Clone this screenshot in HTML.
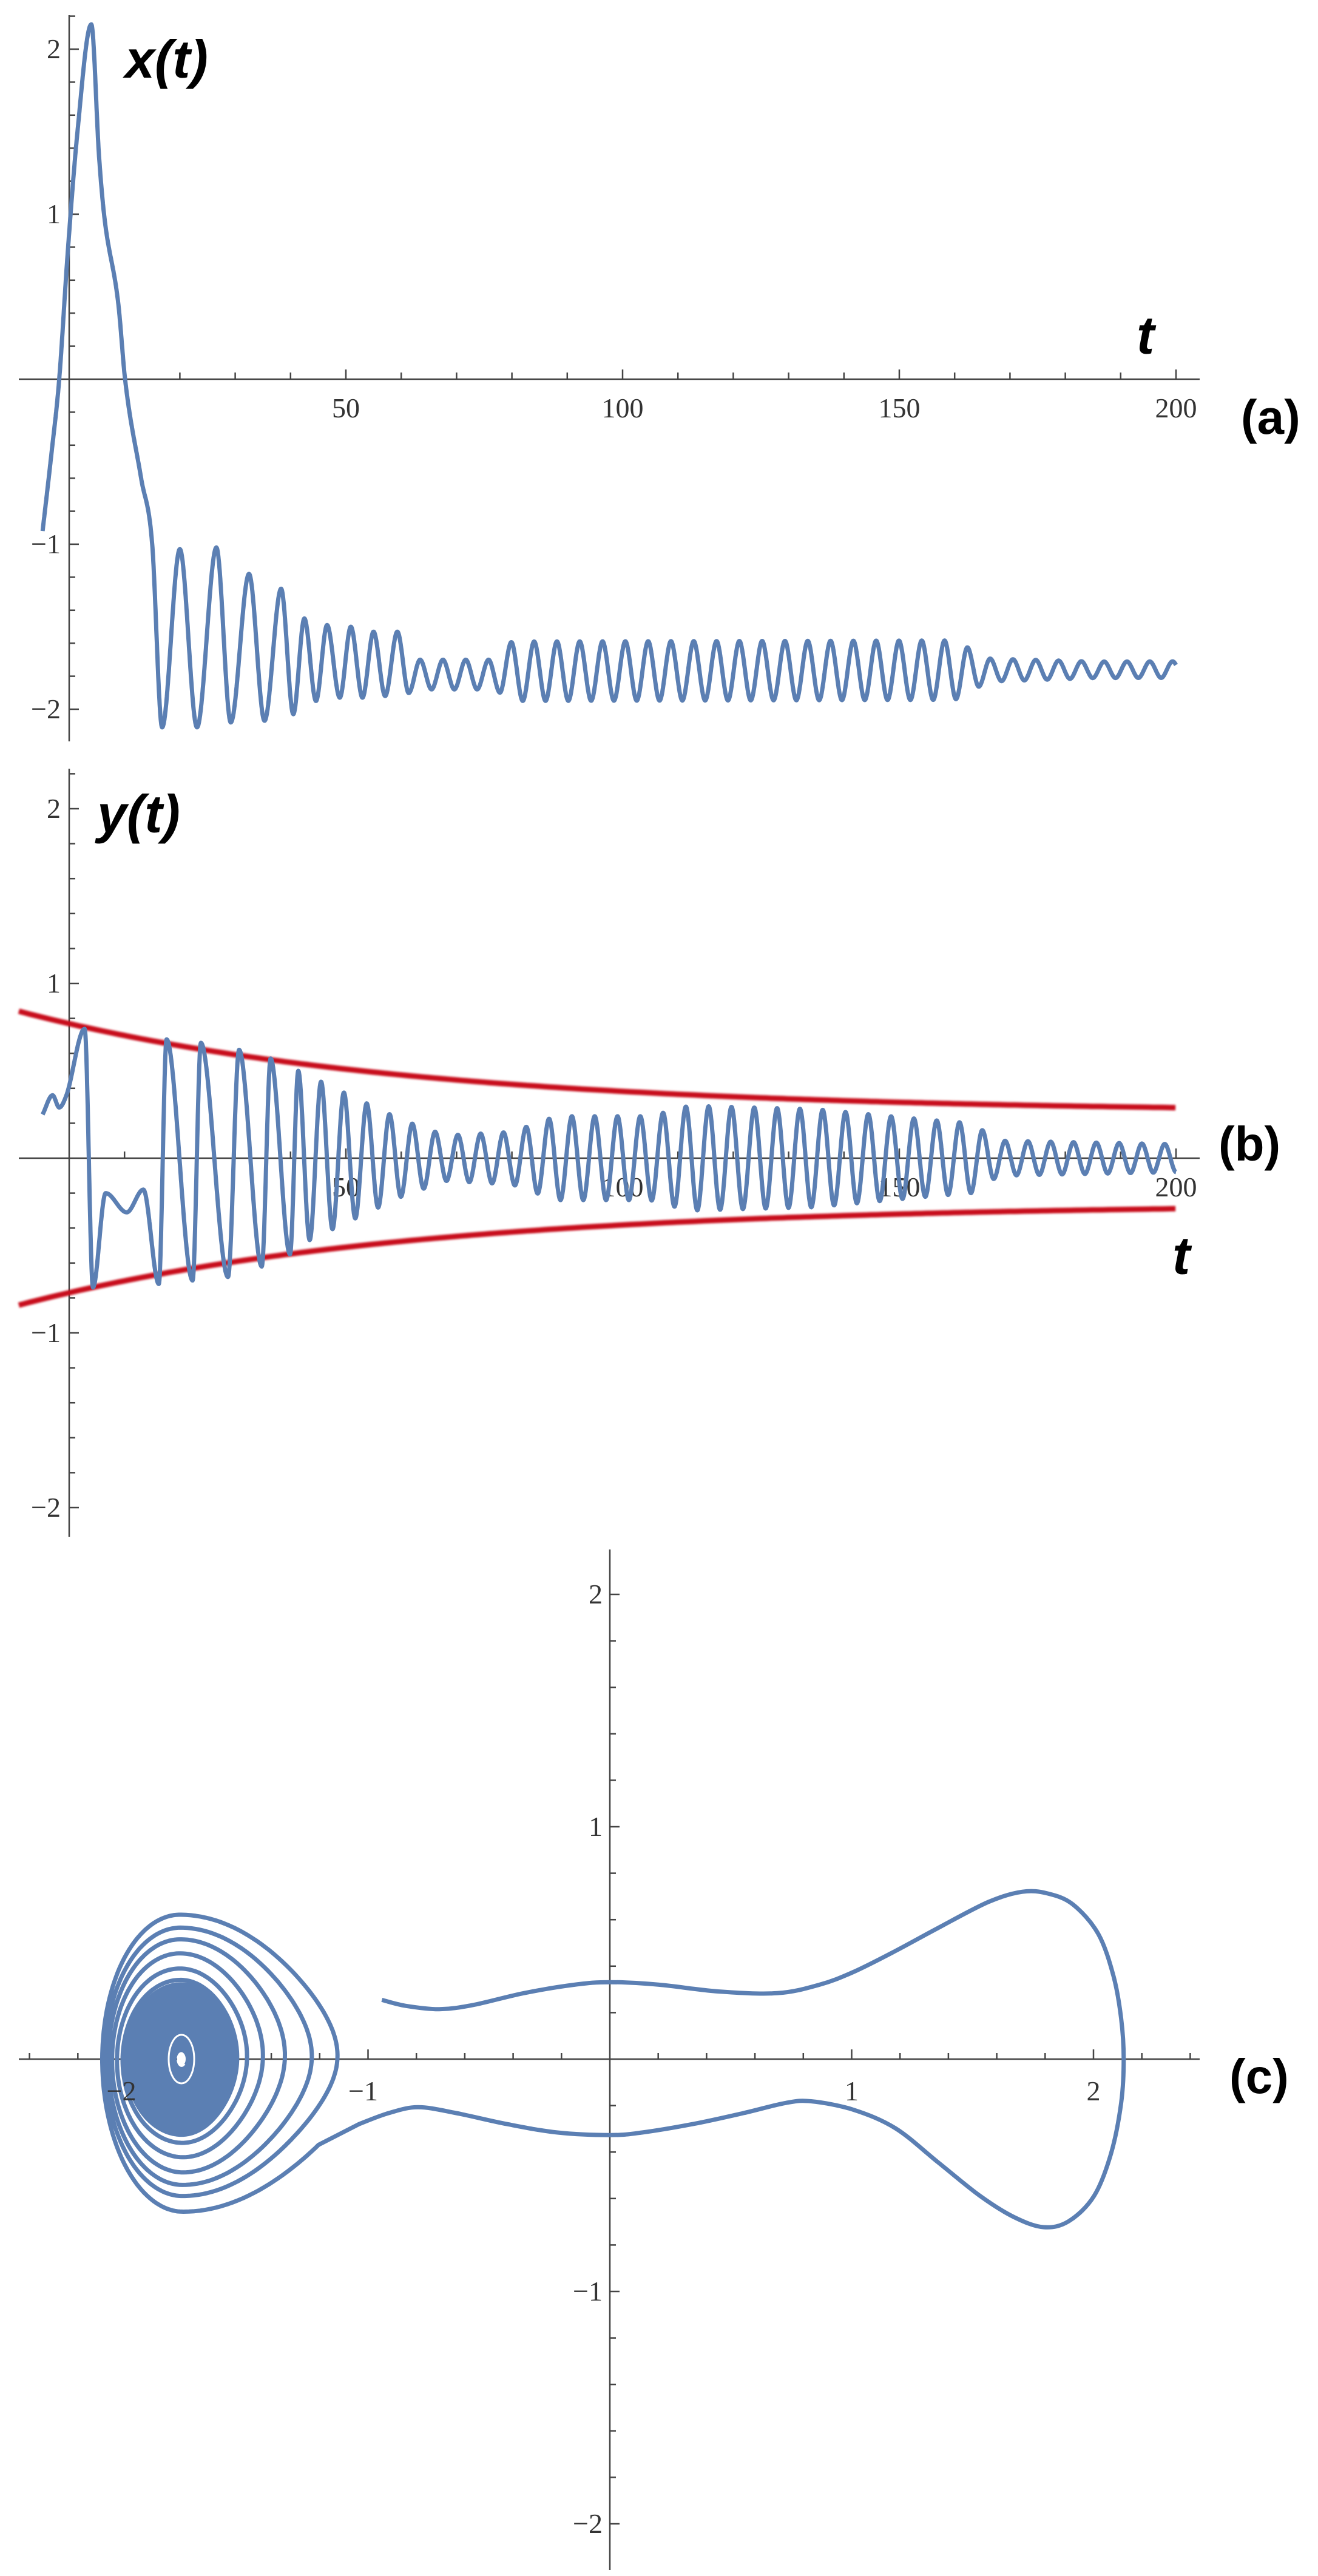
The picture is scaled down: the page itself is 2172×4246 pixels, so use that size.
<!DOCTYPE html>
<html><head><meta charset="utf-8"><style>
html,body{margin:0;padding:0;background:#fff;}
svg{display:block}
.tl{font-family:"Liberation Serif",serif;font-size:46px;fill:#333}
.lb{font-family:"Liberation Sans",sans-serif;font-weight:bold;font-style:italic;font-size:88px;fill:#000}
.pl{font-family:"Liberation Sans",sans-serif;font-weight:bold;font-size:80px;fill:#000}
</style></head><body>
<svg id="s" width="2172" height="4246" viewBox="0 0 2172 4246" xmlns="http://www.w3.org/2000/svg">
<defs><filter id="bl" x="-5%" y="-50%" width="110%" height="200%"><feGaussianBlur stdDeviation="1.5"/></filter></defs>
<g id="g"></g>
<text class="lb" x="206" y="128">x(t)</text>
<text class="lb" x="1873" y="583">t</text>
<text class="pl" x="2045" y="715">(a)</text>
<text class="lb" x="160" y="1372">y(t)</text>
<text class="lb" x="1932" y="2100">t</text>
<text class="pl" x="2008" y="1913">(b)</text>
<text class="pl" x="2026" y="3450">(c)</text>
</svg>
<script>
var out=[];
function P(s){out.push(s);}
function mono(pts){
 var n=pts.length,x=pts.map(p=>p[0]),y=pts.map(p=>p[1]),d=[],m=[];
 for(var i=0;i<n-1;i++)d.push((y[i+1]-y[i])/(x[i+1]-x[i]));
 m[0]=d[0];m[n-1]=d[n-2];
 for(i=1;i<n-1;i++){m[i]=(d[i-1]*d[i]<=0)?0:(d[i-1]+d[i])/2;}
 for(i=0;i<n-1;i++){if(d[i]==0){m[i]=0;m[i+1]=0;continue;}var a=m[i]/d[i],b=m[i+1]/d[i],s=a*a+b*b;if(s>9){var t=3/Math.sqrt(s);m[i]=t*a*d[i];m[i+1]=t*b*d[i];}}
 return function(t){var k=0;while(k<n-2&&t>x[k+1])k++;var h=x[k+1]-x[k],u=(t-x[k])/h,u2=u*u,u3=u2*u;
  return (2*u3-3*u2+1)*y[k]+(u3-2*u2+u)*h*m[k]+(-2*u3+3*u2)*y[k+1]+(u3-u2)*h*m[k+1];};
}
function lin(K,t){if(t<=K[0][0])return K[0][1];for(var i=0;i<K.length-1;i++){if(t<=K[i+1][0]){var f=(t-K[i][0])/(K[i+1][0]-K[i][0]);return K[i][1]+f*(K[i+1][1]-K[i][1]);}}return K[K.length-1][1];}
function regular(pts,t0,peak,per,mK,AK){var t=t0,p=peak;while(t<206){t+=per/2;p=!p;var A=lin(AK,t),m=lin(mK,t);pts.push([t,p?m+A:m-A]);}return pts;}
var xp=[[-4.8,-0.92],[-3.2,-0.45],[-1.8,0],[-0.3,0.75],[1.5,1.5],[4,2.15],[5.4,1.35],[6.3,1.0],[8.9,0.45],[10.1,0.0],[13,-0.6],[15,-1.0],[16.8,-2.11],
[20,-1.03],[23.1,-2.11],[26.6,-1.02],[29.2,-2.08],[32.5,-1.18],[35.3,-2.07],[38.3,-1.27],[40.5,-2.03],[42.5,-1.45],[44.6,-1.95],[46.6,-1.49],[48.9,-1.93],[50.9,-1.5],[53,-1.93],[55,-1.53],[57.1,-1.92],[59.3,-1.53]];
regular(xp,59.3,true,4.12,[[60,-1.73],[63,-1.79],[77,-1.79],[80,-1.77],[200,-1.76]],[[60,.19],[63,.09],[77,.09],[80,.18],[160,.18],[166,.07],[185,.05],[200,.05]]);
var fx=mono(xp);
var yp=[[-4.8,0.25],[-3.0,0.36],[-1.8,0.29],[-0.5,0.36],[2.8,0.74],[4.3,-0.74],[6.6,-0.2],[10.4,-0.31],[13.4,-0.18],[16.2,-0.72],[17.6,0.68],
[22.3,-0.7],[23.8,0.66],[28.7,-0.68],[30.7,0.62],[34.8,-0.62],[36.4,0.57],[39.9,-0.55],[41.4,0.5]];
regular(yp,41.4,true,4.12,[[0,0],[200,0]],[[41.4,.5],[50,.37],[60,.22],[68,.13],[80,.15],[88,.24],[105,.24],[112,.3],[135,.28],[155,.22],[163,.2],[168,.1],[200,.08]]);
var fy=mono(yp);
var BL='#5b7fb3',SW=7;
function tsPath(f,y0,sc){var s='';for(var t=-4.8;t<=200.001;t+=0.05){var X=114+9.12*t,Y=y0-sc*f(t);s+=(s?'L':'M')+X.toFixed(1)+' '+Y.toFixed(1);}return s;}
function axesTS(y0,sc,top,bot,labelY){
 P('<line x1="31" y1="'+y0+'" x2="1977" y2="'+y0+'" stroke="#444" stroke-width="2.5"/>');
 P('<line x1="114" y1="'+top+'" x2="114" y2="'+bot+'" stroke="#444" stroke-width="2.5"/>');
 for(var t=10;t<=200;t+=10){var X=114+9.12*t;P('<line x1="'+X+'" y1="'+y0+'" x2="'+X+'" y2="'+(y0-(t%50==0?16:11))+'" stroke="#444" stroke-width="2.5"/>');
  if(t%50==0)P('<text class="tl" x="'+X+'" y="'+labelY+'" text-anchor="middle">'+t+'</text>');}
 for(var k=-11;k<=11;k++){if(k==0)continue;var Y=y0-sc*k*0.2;if(Y<top||Y>bot)continue;P('<line x1="114" y1="'+Y+'" x2="'+(114+(k%5==0?16:10))+'" y2="'+Y+'" stroke="#444" stroke-width="2.5"/>');
  if(k%5==0){var v=k/5;P('<text class="tl" x="100" y="'+(Y+15)+'" text-anchor="end">'+(v<0?'\u2212'+(-v):v)+'</text>');}}
}
axesTS(625,272,25,1222,688);
P('<path d="'+tsPath(fx,625,272)+'" fill="none" stroke="'+BL+'" stroke-width="'+SW+'" stroke-linejoin="round"/>');
axesTS(1909,288,1267,2533,1972);
var eu='',el='';for(var t=-9.1;t<=200;t+=1){var E=0.26+0.51*Math.exp(-t/70),X=114+9.12*t;eu+=(eu?'L':'M')+X.toFixed(1)+' '+(1909-288*E).toFixed(1);el+=(el?'L':'M')+X.toFixed(1)+' '+(1909+288*E).toFixed(1);}
P('<path d="'+eu+'" fill="none" stroke="#c8101a" stroke-width="9" filter="url(#bl)"/>');
P('<path d="'+el+'" fill="none" stroke="#c8101a" stroke-width="9" filter="url(#bl)"/>');
P('<path d="'+tsPath(fy,1909,288)+'" fill="none" stroke="'+BL+'" stroke-width="'+SW+'" stroke-linejoin="round"/>');
var CX=1005,CY=3394,UX=398.5,UY=383;
P('<line x1="31" y1="'+CY+'" x2="1977" y2="'+CY+'" stroke="#444" stroke-width="2.5"/>');
P('<line x1="'+CX+'" y1="2554" x2="'+CX+'" y2="4236" stroke="#444" stroke-width="2.5"/>');
for(var k=-12;k<=12;k++){if(k==0)continue;var X=CX+UX*k*0.2;if(X<31||X>1977)continue;P('<line x1="'+X+'" y1="'+CY+'" x2="'+X+'" y2="'+(CY-(k%5==0?16:10))+'" stroke="#444" stroke-width="2.5"/>');}
for(var k=-11;k<=11;k++){if(k==0)continue;var Y=CY-UY*k*0.2;if(Y<2554||Y>4236)continue;P('<line x1="'+CX+'" y1="'+Y+'" x2="'+(CX+(k%5==0?16:10))+'" y2="'+Y+'" stroke="#444" stroke-width="2.5"/>');
 if(k%5==0){var v=k/5;P('<text class="tl" x="'+(CX-12)+'" y="'+(Y+15)+'" text-anchor="end">'+(v<0?'\u2212'+(-v):v)+'</text>');}}
var dp=[[452,878],[480,885],[520,889],[560,884],[620,870],[680,860],[722,857],[780,860],[850,868],[920,870],[970,860],[1010,845],[1060,820],[1110,793],[1170,762],[1210,750],[1240,752],[1270,765],[1300,800],[1318,850],[1327,900],[1330,948],[1327,1000],[1315,1060],[1295,1110],[1265,1140],[1235,1147],[1200,1135],[1160,1110],[1110,1070],[1060,1030],[1010,1008],[960,998],[930,1000],[880,1012],[820,1025],[760,1035],[722,1038],[660,1035],[600,1025],[540,1012],[495,1005],[460,1012],[425,1025]];
var pts=dp.map(p=>[p[0]*1.3923,2074+p[1]*1.3923]);
var ps='M'+pts[0][0].toFixed(1)+' '+pts[0][1].toFixed(1);
for(var i=0;i<pts.length-1;i++){var p0=pts[Math.max(0,i-1)],p1=pts[i],p2=pts[i+1],p3=pts[Math.min(pts.length-1,i+2)];
 ps+='C'+(p1[0]+(p2[0]-p0[0])/6).toFixed(1)+' '+(p1[1]+(p2[1]-p0[1])/6).toFixed(1)+' '+(p2[0]-(p3[0]-p1[0])/6).toFixed(1)+' '+(p2[1]-(p3[1]-p1[1])/6).toFixed(1)+' '+p2[0].toFixed(1)+' '+p2[1].toFixed(1);}
var sc=299,sy=3394;
var nK=[[0,255],[1,228],[2,210],[3,190],[4,165],[5,140],[6,125],[46,14]];
var rK=[[0,309],[1,250],[2,210],[3,165],[4,130],[5,105],[6,90],[46,10]];
var lK=[[0,132],[1,128],[2,123],[3,117],[4,110],[5,100],[6,92],[46,10]];
var kK=[[0,.35],[1,.3],[2,.25],[3,.2],[4,.15],[5,.1],[6,.08],[46,0]];
var th0=-0.75;
for(var th=th0;th>th0-2*Math.PI*46;th-=0.03){var n=(th0-th)/(2*Math.PI);var b=lin(nK,n),aR=lin(rK,n),aL=lin(lK,n),kk=lin(kK,n);
 var u=Math.cos(th),v=Math.sin(th);var X=sc+(u>=0?aR*u:aL*u);var Y=sy-b*v*(1-kk*Math.max(u,0)*Math.max(u,0));ps+='L'+X.toFixed(1)+' '+Y.toFixed(1);}
P('<path d="'+ps+'" fill="none" stroke="'+BL+'" stroke-width="'+SW+'" stroke-linejoin="round"/>');
P('<ellipse cx="'+sc+'" cy="'+sy+'" rx="21" ry="40" fill="none" stroke="#fff" stroke-width="3"/>');
P('<ellipse cx="'+sc+'" cy="'+sy+'" rx="7" ry="11" fill="#fff"/>');
for(var v=-2;v<=2;v++){if(v==0)continue;var X=CX+UX*v;P('<text class="tl" x="'+(X+(v<0?-8:0))+'" y="'+(CY+68)+'" text-anchor="middle">'+(v<0?'\u2212'+(-v):v)+'</text>');}
document.getElementById('g').innerHTML=out.join('');
</script>
</body></html>
